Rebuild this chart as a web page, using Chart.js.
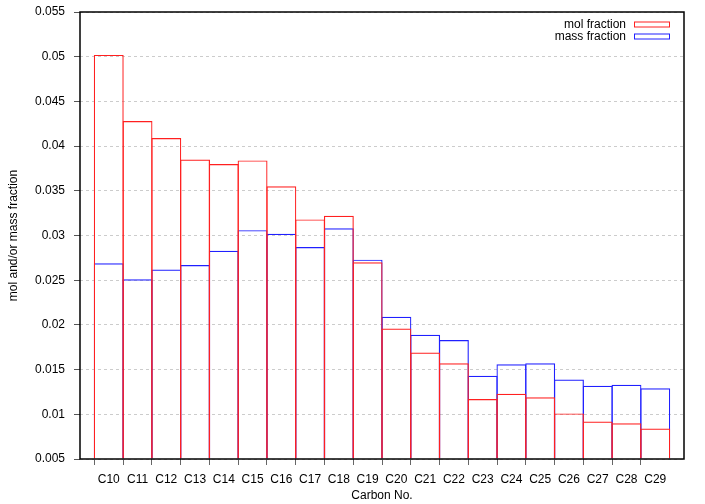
<!DOCTYPE html>
<html>
<head>
<meta charset="utf-8">
<script src="https://cdn.jsdelivr.net/npm/chart.js@4"></script>
<style>
    body { margin: 0; background: #fff; }
    #wrap { width: 705px; height: 504px; }
</style>
</head>
<body>
<div id="wrap"><canvas id="chart" width="705" height="504"></canvas></div>
<script>
// ---------- Data ----------

const categories = ['C10', 'C11', 'C12', 'C13', 'C14', 'C15', 'C16', 'C17', 'C18', 'C19',
    'C20', 'C21', 'C22', 'C23', 'C24', 'C25', 'C26', 'C27', 'C28', 'C29'];
const molFraction = [0.0502, 0.0428, 0.0409, 0.0385, 0.0380, 0.0384, 0.0355, 0.0318, 0.0322, 0.0270,
    0.0196, 0.0169, 0.0157, 0.0117, 0.0123, 0.0119, 0.0101, 0.0092, 0.0090, 0.0084];
const massFraction = [0.0269, 0.0251, 0.0262, 0.0267, 0.0283, 0.0306, 0.0302, 0.0287, 0.0308, 0.0273,
    0.0209, 0.0189, 0.0183, 0.0143, 0.0156, 0.0157, 0.0139, 0.0132, 0.0133, 0.0129];
const seriesNames = ['mol fraction', 'mass fraction'];
const yMin = 0.005;
const yMax = 0.055;
const yStep = 0.005;

// ---------- Helpers ----------

function toPoints(values) {
    return values.map((v, i) => ({ x: i, y: v }));
}

Chart.defaults.font.family = "'Liberation Sans', Arial, sans-serif";
Chart.defaults.font.size = 12;
Chart.defaults.color = '#000';

// legend drawn inside the plot, top right, gnuplot style
const insideLegend = {
    id: 'insideLegend',
    afterDraw(chart) {
        const { ctx, chartArea } = chart;
        const boxRight = chartArea.right - 15;
        const boxW = 35;
        ctx.save();
        ctx.font = "12px 'Liberation Sans', Arial, sans-serif";
        ctx.textAlign = 'right';
        ctx.textBaseline = 'middle';
        chart.data.datasets.forEach((ds, i) => {
            const y = chartArea.top + 12.5 + i * 12;
            ctx.fillStyle = '#000';
            ctx.fillText(ds.label, boxRight - boxW - 8, y);
            ctx.strokeStyle = ds.borderColor;
            ctx.lineWidth = 1;
            ctx.strokeRect(boxRight - boxW + 0.5, y - 2.5, boxW, 5);
        });
        ctx.restore();
    }
};

// full border box around the plot
const frame = {
    id: 'frame',
    afterDraw(chart) {
        const { ctx, chartArea: a } = chart;
        ctx.save();
        ctx.strokeStyle = '#000';
        ctx.lineWidth = 1.5;
        ctx.strokeRect(a.left, a.top, a.right - a.left, a.bottom - a.top);
        ctx.restore();
    }
};

const tickMarkColor = ctx => {
    const v = ctx.tick ? ctx.tick.value : -1;
    return (v >= 0 && v < categories.length) ? '#666' : 'rgba(0,0,0,0)';
};

// ---------- Chart ----------

new Chart(document.getElementById('chart'), {
    type: 'bar',
    data: {
        datasets: [
            {
                label: seriesNames[0],
                data: toPoints(molFraction),
                borderColor: '#ff2020',
                backgroundColor: 'rgba(0,0,0,0)',
                borderWidth: 1.2
            },
            {
                label: seriesNames[1],
                data: toPoints(massFraction),
                borderColor: '#2020ff',
                backgroundColor: 'rgba(0,0,0,0)',
                borderWidth: 1.2
            }
        ]
    },
    options: {
        responsive: false,
        animation: false,
        layout: { padding: { top: 12, right: 21, bottom: 0, left: 0 } },
        datasets: {
            bar: {
                grouped: false,
                base: yMin,
                categoryPercentage: 1,
                barPercentage: 1.04,
                inflateAmount: 0
            }
        },
        plugins: {
            legend: { display: false },
            tooltip: { enabled: false }
        },
        scales: {
            x: {
                type: 'linear',
                min: -1,
                max: categories.length,
                offset: false,
                afterFit: s => { s.height = 45; s.paddingLeft = 0; s.paddingRight = 0; },
                border: { display: false },
                grid: {
                    drawOnChartArea: false,
                    drawTicks: true,
                    tickLength: 6,
                    tickColor: tickMarkColor
                },
                ticks: {
                    stepSize: 1,
                    autoSkip: false,
                    maxRotation: 0,
                    padding: 7,
                    callback: v => categories[v] || ''
                },
                title: {
                    display: true,
                    text: 'Carbon No.',
                    padding: { top: 0, bottom: 1 }
                }
            },
            y: {
                min: yMin,
                max: yMax,
                afterFit: s => { s.width = 80; s.paddingTop = 0; s.paddingBottom = 0; },
                border: { display: false, dash: [3, 3] },
                grid: {
                    color: '#cccccc',
                    tickLength: 6,
                    tickColor: '#555',
                    tickBorderDash: []
                },
                ticks: {
                    stepSize: yStep,
                    padding: 9,
                    callback: v => String(+v.toFixed(3))
                },
                title: {
                    display: true,
                    text: 'mol and/or mass fraction',
                    padding: { top: 6, bottom: 0 }
                }
            }
        }
    },
    plugins: [insideLegend, frame]
});
</script>
</body>
</html>
